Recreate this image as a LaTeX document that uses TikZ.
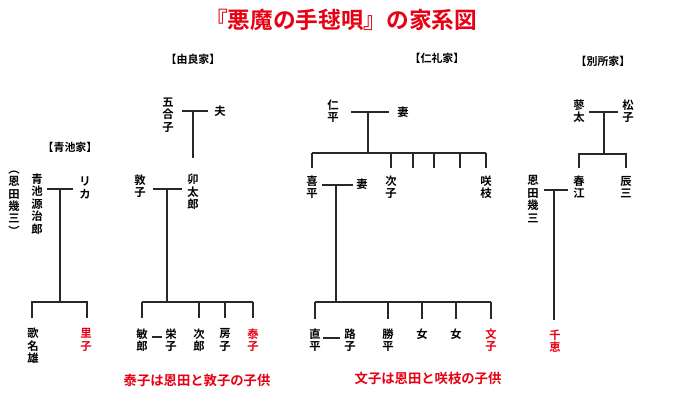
\documentclass[tikz,border=0pt]{standalone}
\usepackage{fontspec}
\newfontfamily\jp{Noto Sans CJK JP}
\newfontfamily\jpb{Noto Sans CJK JP Bold}
\definecolor{myred}{RGB}{232,0,20}
\definecolor{lineclr}{RGB}{40,40,40}
\tikzset{
  person/.style={font=\jpb\fontsize{8.5}{9.3}\selectfont, align=center, inner sep=0pt, text=black},
  redp/.style={person, text=myred},
  famlabel/.style={font=\jpb\fontsize{8.2}{9}\selectfont, inner sep=0pt},
  note/.style={font=\jpb\fontsize{10}{11}\selectfont, inner sep=0pt, text=myred},
  ttl/.style={font=\jpb\fontsize{17}{18}\selectfont, inner sep=0pt, text=myred},
  ln/.style={draw=lineclr, line width=1.1pt}
}
\begin{document}
\begin{tikzpicture}[x=0.75pt,y=-0.75pt]
\useasboundingbox (0,0) rectangle (680,402);
\fill[white] (0,0) rectangle (680,402);

\node[ttl] (title) at (341,20) {『悪魔の手毬唄』の家系図};

% ---------- Aoike ----------
\node[famlabel] (lAoike) at (70,147) {【青池家】};
\node[person] (onda1) at (14,203) {︵\\恩\\田\\幾\\三\\︶};
\node[person] (genjiro) at (37,204) {青\\池\\源\\治\\郎};
\node[person] (rika) at (85,188) {リ\\カ};
\coordinate (aL) at (47,189); \coordinate (aR) at (73,189);
\coordinate (aM) at (60,189); \coordinate (aB) at (60,302);
\coordinate (aB1) at (32,302); \coordinate (aB2) at (87,302);
\coordinate (aD1) at (32,318); \coordinate (aD2) at (87,318);
\node[person] (kanao) at (33,346) {歌\\名\\雄};
\node[redp] (satoko) at (86,340) {里\\子};
\draw[ln] (aL) -- (aR);
\draw[ln] (aM) -- (aB);
\draw[ln] (aD1) -- (aB1) -- (aB2) -- (aD2);

% ---------- Yura ----------
\node[famlabel] (lYura) at (193,59) {【由良家】};
\node[person] (gogoko) at (168,115) {五\\合\\子};
\node[person] (otto) at (220,111) {夫};
\coordinate (yL) at (182,111); \coordinate (yR) at (208,111);
\coordinate (yM) at (193,111); \coordinate (yD) at (193,158);
\node[person] (utaro) at (193,192) {卯\\太\\郎};
\node[person] (atsuko) at (140,186) {敦\\子};
\coordinate (y2L) at (153,189); \coordinate (y2R) at (182,189);
\coordinate (y2M) at (167,189); \coordinate (y2B) at (167,302);
\coordinate (yB1) at (142,302); \coordinate (yB4) at (253,302);
\node[person] (toshiro) at (142,340) {敏\\郎};
\node[person] (eiko) at (171,340) {栄\\子};
\node[person] (jiro) at (199,340) {次\\郎};
\node[person] (fusako) at (225,340) {房\\子};
\node[redp] (yasuko) at (253,340) {泰\\子};
\coordinate (tmL) at (152,337); \coordinate (tmR) at (162,337);
\draw[ln] (yL) -- (yR);
\draw[ln] (yM) -- (yD);
\draw[ln] (y2L) -- (y2R);
\draw[ln] (y2M) -- (y2B);
\draw[ln] (yB1) -- (yB4);
\foreach \x in {142,199,225,253} \draw[ln] (\x,302) -- (\x,318);
\draw[ln] (tmL) -- (tmR);
\node[note] (note1) at (197,380) {泰子は恩田と敦子の子供};

% ---------- Nire ----------
\node[famlabel] (lNire) at (437,58) {【仁礼家】};
\node[person] (nihei) at (333,111) {仁\\平};
\node[person] (tsuma1) at (403,112) {妻};
\coordinate (nL) at (351,112); \coordinate (nR) at (389,112);
\coordinate (nM) at (368,112); \coordinate (nD) at (368,153);
\coordinate (nB1) at (312,153); \coordinate (nB2) at (486,153);
\foreach \x in {312,391,413,434,460,486} \draw[ln] (\x,153) -- (\x,168);
\node[person] (kihei) at (312,187) {喜\\平};
\node[person] (tsuma2) at (362,184) {妻};
\node[person] (tsugiko) at (391,187) {次\\子};
\node[person] (sakie) at (486,187) {咲\\枝};
\coordinate (n2L) at (322,185); \coordinate (n2R) at (353,185);
\coordinate (n2M) at (336,185); \coordinate (n2D) at (336,302);
\coordinate (nC1) at (315,302); \coordinate (nC2) at (491,302);
\foreach \x in {315,388,422,456,491} \draw[ln] (\x,302) -- (\x,319);
\node[person] (naohei) at (315,340) {直\\平};
\node[person] (michiko) at (350,340) {路\\子};
\node[person] (katsuhei) at (388,340) {勝\\平};
\node[person] (onna1) at (422,334) {女};
\node[person] (onna2) at (456,334) {女};
\node[redp] (fumiko) at (491,340) {文\\子};
\coordinate (nmL) at (323,338); \coordinate (nmR) at (340,338);
\draw[ln] (nL) -- (nR);
\draw[ln] (nM) -- (nD);
\draw[ln] (nB1) -- (nB2);
\draw[ln] (n2L) -- (n2R);
\draw[ln] (n2M) -- (n2D);
\draw[ln] (nC1) -- (nC2);
\draw[ln] (nmL) -- (nmR);
\node[note] (note2) at (428,378) {文子は恩田と咲枝の子供};

% ---------- Bessho ----------
\node[famlabel] (lBessho) at (603,61) {【別所家】};
\node[person] (ryota) at (579,111) {蓼\\太};
\node[person] (matsuko) at (628,111) {松\\子};
\coordinate (bL) at (589,112); \coordinate (bR) at (618,112);
\coordinate (bM) at (604,112); \coordinate (bD) at (604,154);
\coordinate (bB1) at (579,154); \coordinate (bB2) at (626,154);
\coordinate (bE1) at (579,168); \coordinate (bE2) at (626,168);
\node[person] (harue) at (579,187) {春\\江};
\node[person] (tatsuzo) at (626,187) {辰\\三};
\node[person] (onda2) at (533,199) {恩\\田\\幾\\三};
\coordinate (b2L) at (544,190); \coordinate (b2R) at (568,190);
\coordinate (b2M) at (554,190); \coordinate (b2D) at (554,320);
\node[redp] (chie) at (555,341) {千\\恵};
\draw[ln] (bL) -- (bR);
\draw[ln] (bM) -- (bD);
\draw[ln] (bE1) -- (bB1) -- (bB2) -- (bE2);
\draw[ln] (b2L) -- (b2R);
\draw[ln] (b2M) -- (b2D);
\end{tikzpicture}
\end{document}
